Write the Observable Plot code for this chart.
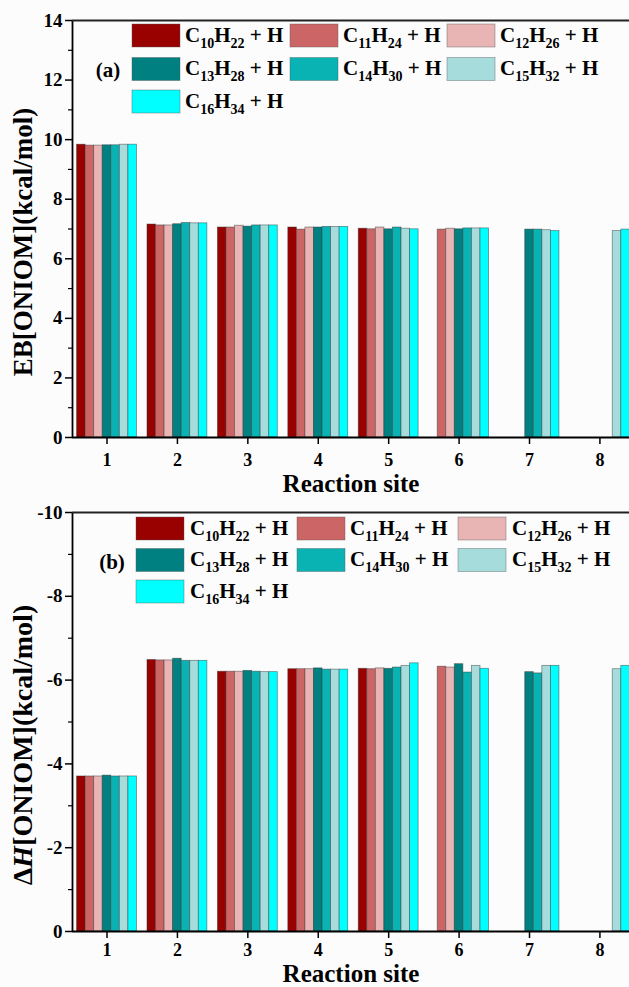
<!DOCTYPE html>
<html><head><meta charset="utf-8">
<script src="https://cdn.jsdelivr.net/npm/d3@7"></script>
<script src="https://cdn.jsdelivr.net/npm/@observablehq/plot@0.6"></script>
<style>
body{margin:0;background:#fcfcfc;}
#chart{width:629px;}
svg{display:block;}
svg, svg text, svg tspan { font-family: "Liberation Serif", "Times New Roman", Tinos, "DejaVu Serif", serif !important; font-weight: bold; }
</style></head><body><div id="chart"></div>
<script>
const sites = [1,2,3,4,5,6,7,8];
const seriesNames = ["C10H22","C11H24","C12H26","C13H28","C14H30","C15H32","C16H34"];
const seriesSubs = [["10","22"],["11","24"],["12","26"],["13","28"],["14","30"],["15","32"],["16","34"]];
const colors = ["#990000","#cc6666","#e8b4b4","#008080","#0ab3b3","#a6dcdc","#00ffff"];

// Panel (a): EB[ONIOM] (kcal/mol)
const eb_C10H22 = [9.83, 7.15, 7.05, 7.05, 7.01, null, null, null];
const eb_C11H24 = [9.80, 7.12, 7.05, 6.98, 6.99, 6.98, null, null];
const eb_C12H26 = [9.80, 7.12, 7.11, 7.05, 7.05, 7.01, null, null];
const eb_C13H28 = [9.81, 7.16, 7.08, 7.05, 6.99, 6.99, 6.98, null];
const eb_C14H30 = [9.81, 7.20, 7.12, 7.07, 7.05, 7.02, 6.98, null];
const eb_C15H32 = [9.83, 7.19, 7.12, 7.07, 7.01, 7.02, 6.96, 6.93];
const eb_C16H34 = [9.83, 7.19, 7.12, 7.07, 6.99, 7.02, 6.93, 6.98];

// Panel (b): ΔH[ONIOM] (kcal/mol)
const dh_C10H22 = [-3.70, -6.48, -6.20, -6.26, -6.27, null, null, null];
const dh_C11H24 = [-3.70, -6.47, -6.20, -6.26, -6.26, -6.32, null, null];
const dh_C12H26 = [-3.70, -6.47, -6.20, -6.26, -6.28, -6.30, null, null];
const dh_C13H28 = [-3.72, -6.51, -6.22, -6.28, -6.27, -6.38, -6.19, null];
const dh_C14H30 = [-3.70, -6.46, -6.20, -6.25, -6.30, -6.18, -6.16, null];
const dh_C15H32 = [-3.70, -6.46, -6.19, -6.25, -6.34, -6.34, -6.34, -6.26];
const dh_C16H34 = [-3.70, -6.46, -6.19, -6.25, -6.40, -6.27, -6.34, -6.34];

const ebTicks = [0,2,4,6,8,10,12,14];
const ebMinor = [1,3,5,7,9,11,13];
const dhTicks = [0,-2,-4,-6,-8,-10];
const dhMinor = [-1,-3,-5,-7,-9];

const bw = 0.1215;           // bar width in site units
const xDomain = [0.51, 8.42];
const FONT = "\"Liberation Serif\", \"Times New Roman\", serif";

function rowsOf(lists) {
  const rows = [];
  lists.forEach((vals, i) => vals.forEach((v, j) => {
    if (v != null) rows.push({site: sites[j], i, value: v});
  }));
  return rows;
}

function panel({lists, height, marginTop, marginBottom, yDomain, ticks, minor, topValue, xPad, labelDy}) {
  const rows = rowsOf(lists);
  return Plot.plot({
    width: 629, height, marginLeft: 72, marginRight: 0, marginTop, marginBottom,
    x: {domain: xDomain},
    y: {domain: yDomain},
    style: {fontFamily: FONT, fontWeight: "bold", background: "transparent", color: "#000"},
    marks: [
      Plot.rectY(rows, {
        x1: d => d.site + (d.i - 3.5) * bw,
        x2: d => d.site + (d.i - 2.5) * bw,
        y1: 0, y2: "value",
        fill: d => colors[d.i],
        stroke: "#333", strokeOpacity: 0.55, strokeWidth: 0.8,
        clip: true
      }),
      Plot.axisX({ticks: sites, tickSize: 7, tickPadding: xPad, fontSize: 18, tickFormat: d => String(d), label: null, strokeWidth: 1.5}),
      Plot.axisY({ticks, tickSize: 7, tickPadding: 3, fontSize: 19, tickFormat: d => String(d), label: null, strokeWidth: 1.5}),
      Plot.axisY({ticks: minor, tickSize: 4, tickFormat: () => "", label: null, strokeWidth: 1.2}),
      Plot.ruleX([xDomain[0]], {stroke: "#000", strokeWidth: 1.8}),
      Plot.ruleY([0], {stroke: "#000", strokeWidth: 1.8}),
      Plot.ruleY([topValue], {stroke: "#222", strokeWidth: 2.2}),
      Plot.text(["Reaction site"], {frameAnchor: "bottom", dy: labelDy, fontSize: 25, fontWeight: "bold", fill: "#000"})
    ]
  });
}

function addLegend(svg, {rowY, swX, txX, swW, swH, tag, tagX, tagY}) {
  const g = d3.select(svg).append("g").attr("font-family", FONT).attr("font-weight", "bold").attr("text-anchor", "start");
  seriesNames.forEach((name, k) => {
    const col = k === 6 ? 0 : k % 3;
    const row = k === 6 ? 2 : Math.floor(k / 3);
    const cy = rowY[row];
    g.append("rect").attr("x", swX[col]).attr("y", cy - swH / 2).attr("width", swW).attr("height", swH)
      .attr("fill", colors[k]).attr("stroke", "#555").attr("stroke-opacity", 0.5).attr("stroke-width", 0.8);
    const t = g.append("text").attr("x", txX[col]).attr("y", cy + 6).attr("font-size", 21).attr("fill", "#000").attr("text-anchor", "start");
    const [a, b] = seriesSubs[k];
    t.append("tspan").text("C");
    t.append("tspan").attr("dy", 6).attr("font-size", 14).text(a);
    t.append("tspan").attr("dy", -6).text("H");
    t.append("tspan").attr("dy", 6).attr("font-size", 14).text(b);
    t.append("tspan").attr("dy", -6).text(" + H");
  });
  g.append("text").attr("x", tagX).attr("y", tagY).attr("font-size", 21).attr("text-anchor", "middle").text(tag);
}

function addYTitle(svg, {cx, cy, size, parts}) {
  const t = d3.select(svg).append("text")
    .attr("transform", `translate(${cx},${cy}) rotate(-90)`)
    .attr("text-anchor", "middle").attr("dominant-baseline", "middle")
    .attr("font-family", FONT).attr("font-weight", "bold").attr("font-size", size).attr("fill", "#000");
  parts.forEach(([s, italic]) => {
    const ts = t.append("tspan").text(s);
    if (italic) ts.attr("font-style", "italic");
  });
}

const chart = document.getElementById("chart");

const svgA = panel({
  lists: [eb_C10H22, eb_C11H24, eb_C12H26, eb_C13H28, eb_C14H30, eb_C15H32, eb_C16H34],
  height: 496, marginTop: 20, marginBottom: 59, yDomain: [0, 14],
  ticks: ebTicks, minor: ebMinor, topValue: 14, xPad: 9, labelDy: 54
});
addLegend(svgA, {rowY: [35.5, 69, 101.5], swX: [132, 290, 447], txX: [185, 343, 500], swW: 48, swH: 23, tag: "(a)", tagX: 108, tagY: 77});
addYTitle(svgA, {cx: 26, cy: 242, size: 27, parts: [["EB[ONIOM](kcal/mol)", false]]});
chart.appendChild(svgA);

const svgB = panel({
  lists: [dh_C10H22, dh_C11H24, dh_C12H26, dh_C13H28, dh_C14H30, dh_C15H32, dh_C16H34],
  height: 491, marginTop: 16, marginBottom: 56, yDomain: [0, -10],
  ticks: dhTicks, minor: dhMinor, topValue: -10, xPad: 5, labelDy: 50
});
addLegend(svgB, {rowY: [32.5, 64, 95.5], swX: [136, 297, 458], txX: [190, 350, 512], swW: 48, swH: 23, tag: "(b)", tagX: 112, tagY: 73});
addYTitle(svgB, {cx: 26, cy: 249, size: 28, parts: [["Δ", false], ["H", true], ["[ONIOM](kcal/mol)", false]]});
chart.appendChild(svgB);
</script>
</body></html>
